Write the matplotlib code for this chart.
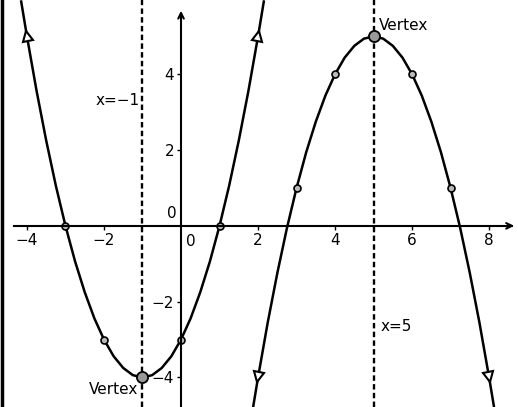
import numpy as np
import matplotlib.pyplot as plt
from matplotlib.markers import MarkerStyle
from matplotlib.transforms import Affine2D

# left parabola
x1 = [-4.15, -4, -3.75, -3.5, -3.25, -3, -2.75, -2.5, -2.25, -2, -1.75, -1.5, -1.25,
      -1, -0.75, -0.5, -0.25, 0, 0.25, 0.5, 0.75, 1, 1.25, 1.5, 1.75, 2, 2.15]
y1 = [5.92, 5, 3.56, 2.25, 1.06, 0, -0.94, -1.75, -2.44, -3, -3.44, -3.75, -3.94,
      -4, -3.94, -3.75, -3.44, -3, -2.44, -1.75, -0.94, 0, 1.06, 2.25, 3.56, 5, 5.92]

# right parabola
x2 = [1.85, 2, 2.25, 2.5, 2.75, 3, 3.25, 3.5, 3.75, 4, 4.25, 4.5, 4.75, 5, 5.25,
      5.5, 5.75, 6, 6.25, 6.5, 6.75, 7, 7.25, 7.5, 7.75, 8, 8.15]
y2 = [-4.92, -4, -2.56, -1.25, -0.06, 1, 1.94, 2.75, 3.44, 4, 4.44, 4.75, 4.94, 5,
      4.94, 4.75, 4.44, 4, 3.44, 2.75, 1.94, 1, -0.06, -1.25, -2.56, -4, -4.92]

# plotted points
px1 = [-3, -2, 0, 1]
py1 = [0, -3, -3, 0]
px2 = [3, 4, 6, 7]
py2 = [1, 4, 4, 1]
vx = [-1, 5]
vy = [-4, 5]

# arrow heads on the curves (x, y, direction, tilt in degrees)
arrows = [(-4, 5, '^', 9.5), (2, 5, '^', -9.5), (2, -4, 'v', -9.5), (8, -4, 'v', 9.5)]

xticks = [-4, -2, 2, 4, 6, 8]
yticks = [-4, -2, 2, 4]
axis_lines = [-1, 5]

fig = plt.figure(figsize=(5.18, 4.07), dpi=100)
ax = fig.add_axes([0, 0, 1, 1])
ax.set_xlim(-4.70, 8.75)
ax.set_ylim(-4.78, 5.96)

for s in ['top', 'right']:
    ax.spines[s].set_visible(False)
ax.spines['left'].set_position(('data', 0))
ax.spines['bottom'].set_position(('data', 0))
ax.spines['bottom'].set_bounds(-4.34, 8.6)
ax.spines['left'].set_bounds(-4.78, 5.6)
ax.spines['left'].set_linewidth(1.5)
ax.spines['bottom'].set_linewidth(1.5)
ax.annotate('', xy=(8.72, 0), xytext=(8.4, 0),
            arrowprops=dict(arrowstyle='->', lw=1.5, color='black'))
ax.annotate('', xy=(0, 5.75), xytext=(0, 5.4),
            arrowprops=dict(arrowstyle='->', lw=1.5, color='black'))

ax.set_xticks(xticks)
ax.set_yticks(yticks)
ax.set_xticklabels(['\u2212' + str(-t) if t < 0 else str(t) for t in xticks])
ax.set_yticklabels(['\u2212' + str(-t) if t < 0 else str(t) for t in yticks])
ax.tick_params(axis='both', direction='out', length=3, width=1, labelsize=11, pad=2)
ax.text(0.12, -0.22, '0', fontsize=11, ha='left', va='top')
ax.text(-0.12, 0.12, '0', fontsize=11, ha='right', va='bottom')

for xv in axis_lines:
    ax.axvline(xv, color='black', lw=1.7, ls=(0, (2.3, 1.4)))

ax.plot(x1, y1, color='black', lw=1.8)
ax.plot(x2, y2, color='black', lw=1.8)

ax.plot(px1 + px2, py1 + py2, 'o', ms=5, mfc='#bbbbbb', mec='black', mew=1.2, ls='none')
ax.plot(vx, vy, 'o', ms=8, mfc='#999999', mec='black', mew=1.3, ls='none')

for ax_x, ax_y, m, ang in arrows:
    mk = MarkerStyle(m, transform=Affine2D().rotate_deg(ang))
    ax.plot(ax_x, ax_y, marker=mk, ms=7, mfc='white', mec='black', mew=1.5)

ax.text(-1.07, 3.3, 'x=\u22121', fontsize=11, ha='right', va='center')
ax.text(5.15, 5.3, 'Vertex', fontsize=11, ha='left', va='center')
ax.text(-1.1, -4.33, 'Vertex', fontsize=11, ha='right', va='center')
ax.text(5.18, -2.66, 'x=5', fontsize=11, ha='left', va='center')

# dark strip on the left edge of the scan
fig.add_artist(plt.Line2D([0.003, 0.003], [0, 1], color='black', lw=2.5, transform=fig.transFigure))

fig.savefig('out.png', dpi=100)
